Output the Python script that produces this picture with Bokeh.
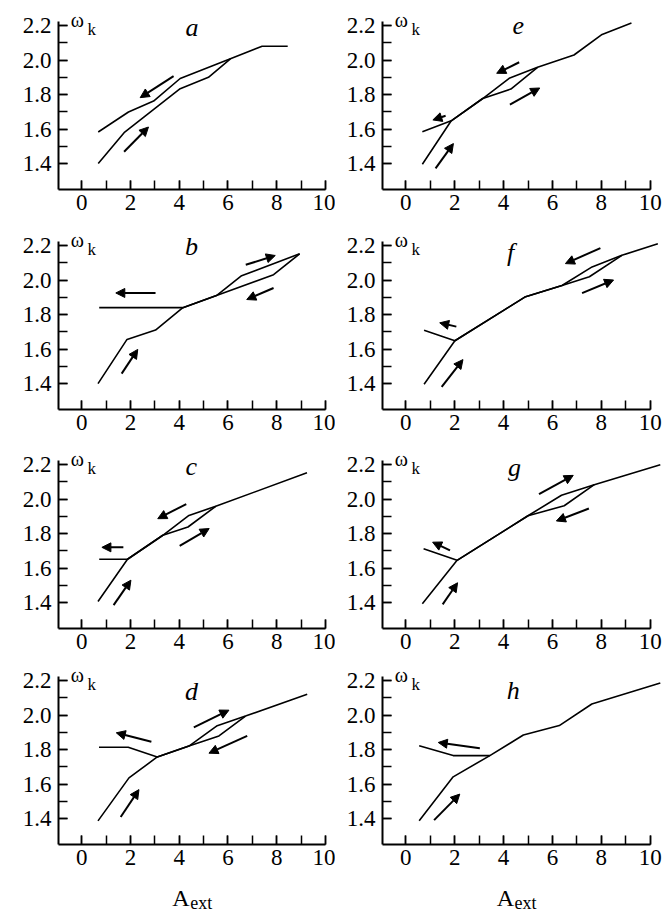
from bokeh.plotting import figure
from bokeh.layouts import column, row
from bokeh.models import FixedTicker, PrintfTickFormatter, Arrow, NormalHead
from bokeh.core.properties import value
from bokeh.embed import file_html
from bokeh.resources import INLINE

# ---- data ----
x_ticks = [0, 2, 4, 6, 8, 10]
x_minor = [0, 1, 2, 3, 4, 5, 6, 7, 8, 9, 10]
y_ticks = [1.4, 1.6, 1.8, 2.0, 2.2]
y_minor = [1.4, 1.5, 1.6, 1.7, 1.8, 1.9, 2.0, 2.1, 2.2]

a_fwd_x = [0.68, 1.74, 4.04, 5.2, 6.1, 7.4, 8.45]
a_fwd_y = [1.40, 1.579, 1.834, 1.90, 2.007, 2.08, 2.08]
a_ret_x = [6.1, 4.04, 2.95, 1.92, 0.68]
a_ret_y = [2.007, 1.893, 1.762, 1.699, 1.583]
a_arrows = [(3.77, 1.907, 2.4, 1.782), (1.74, 1.469, 2.74, 1.612)]

b_fwd_x = [0.67, 1.86, 3.03, 4.15, 5.53, 6.56, 8.94]
b_fwd_y = [1.40, 1.656, 1.71, 1.84, 1.91, 2.025, 2.152]
b_ret_x = [8.94, 7.87, 5.53, 4.15, 0.72]
b_ret_y = [2.152, 2.031, 1.91, 1.84, 1.84]
b_arrows = [(1.64, 1.458, 2.3, 1.598), (6.73, 2.088, 7.94, 2.142),
            (7.87, 1.954, 6.77, 1.887), (3.03, 1.925, 1.40, 1.925)]

c_fwd_x = [0.67, 1.88, 3.33, 4.36, 5.5, 9.24]
c_fwd_y = [1.406, 1.651, 1.79, 1.838, 1.958, 2.152]
c_ret_x = [5.5, 4.4, 3.33, 1.88, 0.72]
c_ret_y = [1.958, 1.905, 1.79, 1.651, 1.651]
c_arrows = [(1.31, 1.385, 2.02, 1.53), (1.71, 1.72, 0.83, 1.72),
            (4.29, 1.971, 3.12, 1.886), (4.02, 1.728, 5.23, 1.829)]

d_fwd_x = [0.67, 1.94, 3.1, 4.4, 5.56, 6.72, 9.25]
d_fwd_y = [1.387, 1.636, 1.757, 1.82, 1.938, 1.994, 2.121]
d_ret_x = [6.72, 5.63, 4.4, 3.1, 1.91, 0.71]
d_ret_y = [1.994, 1.879, 1.82, 1.757, 1.813, 1.813]
d_arrows = [(1.6, 1.409, 2.35, 1.568), (2.86, 1.845, 1.42, 1.897),
            (4.6, 1.929, 6.04, 2.028), (6.79, 1.879, 5.22, 1.779)]

e_fwd_x = [0.68, 1.86, 3.15, 4.3, 5.39, 6.88, 8.03, 9.23]
e_fwd_y = [1.396, 1.648, 1.777, 1.832, 1.958, 2.029, 2.148, 2.214]
e_ret_x = [5.39, 4.23, 3.15, 1.86, 0.68]
e_ret_y = [1.958, 1.894, 1.777, 1.648, 1.584]
e_arrows = [(1.22, 1.372, 1.95, 1.516), (1.63, 1.677, 1.11, 1.653),
            (4.64, 1.987, 3.72, 1.923), (4.26, 1.741, 5.48, 1.838)]

f_fwd_x = [0.75, 2.01, 4.87, 6.39, 7.51, 8.84, 10.31]
f_fwd_y = [1.396, 1.648, 1.901, 1.968, 2.019, 2.143, 2.21]
f_ret_x = [8.84, 7.62, 6.39, 4.87, 2.01, 0.75]
f_ret_y = [2.143, 2.076, 1.968, 1.901, 1.648, 1.709]
f_arrows = [(1.47, 1.381, 2.34, 1.539), (2.07, 1.73, 1.39, 1.752),
            (7.96, 2.185, 6.53, 2.095), (7.21, 1.924, 8.5, 2.0)]

g_fwd_x = [0.68, 2.1, 5.0, 6.37, 7.71, 10.41]
g_fwd_y = [1.394, 1.645, 1.903, 2.022, 2.083, 2.198]
g_ret_x = [7.71, 6.48, 5.0, 2.1, 0.73]
g_ret_y = [2.083, 1.961, 1.903, 1.645, 1.712]
g_arrows = [(1.51, 1.39, 2.12, 1.515), (1.81, 1.702, 1.1, 1.75),
            (5.45, 2.028, 6.85, 2.137), (7.49, 1.945, 6.16, 1.873)]

h_fwd_x = [0.55, 1.94, 3.44, 4.81, 6.28, 7.61, 10.41]
h_fwd_y = [1.387, 1.642, 1.765, 1.884, 1.939, 2.064, 2.185]
h_ret_x = [3.44, 1.94, 0.55]
h_ret_y = [1.765, 1.765, 1.822]
h_arrows = [(1.16, 1.391, 2.21, 1.542), (3.03, 1.807, 1.33, 1.841)]

panels = [
    ("a", a_fwd_x, a_fwd_y, a_ret_x, a_ret_y, a_arrows, (4.52, 2.187)),
    ("e", e_fwd_x, e_fwd_y, e_ret_x, e_ret_y, e_arrows, (4.6, 2.2)),
    ("b", b_fwd_x, b_fwd_y, b_ret_x, b_ret_y, b_arrows, (4.5, 2.194)),
    ("f", f_fwd_x, f_fwd_y, f_ret_x, f_ret_y, f_arrows, (4.29, 2.162)),
    ("c", c_fwd_x, c_fwd_y, c_ret_x, c_ret_y, c_arrows, (4.5, 2.187)),
    ("g", g_fwd_x, g_fwd_y, g_ret_x, g_ret_y, g_arrows, (4.45, 2.185)),
    ("d", d_fwd_x, d_fwd_y, d_ret_x, d_ret_y, d_arrows, (4.5, 2.134)),
    ("h", h_fwd_x, h_fwd_y, h_ret_x, h_ret_y, h_arrows, (4.4, 2.143)),
]

FONT = "Times New Roman"

Y_TOP = 2.31            # frame top (room for panel letters and the omega label)
FRAME_H = 183
top_borders = [6, 4, 3, 0]
BOTTOM = 33
row_heights = [t + FRAME_H + BOTTOM for t in top_borders]
CAPTION_H = 912 - sum(row_heights)


def col_geometry(c):
    if c == 0:
        return (-0.95, 10.0), 58, 10
    return (-0.95, 10.5), 47, 8


def make_panel(idx, letter, fx, fy, rx, ry, arrows, lpos):
    r = idx // 2
    c = idx % 2
    xr, bl, br = col_geometry(c)
    p = figure(width=335, height=row_heights[r], x_range=xr, y_range=(1.25, Y_TOP),
               min_border_left=bl, min_border_right=br,
               min_border_top=top_borders[r], min_border_bottom=BOTTOM,
               output_backend="svg", toolbar_location=None,
               background_fill_color="white", border_fill_color="white")
    p.outline_line_color = None
    p.xgrid.visible = False
    p.ygrid.visible = False

    p.axis.axis_line_width = 2
    p.axis.axis_line_color = "black"
    p.axis.major_tick_in = 9
    p.axis.major_tick_out = 0
    p.axis.minor_tick_in = 9
    p.axis.minor_tick_out = 0
    p.axis.major_tick_line_width = 1.5
    p.axis.minor_tick_line_width = 1.5
    p.axis.major_tick_line_color = "black"
    p.axis.minor_tick_line_color = "black"
    p.axis.major_label_text_font = FONT
    p.axis.major_label_text_font_size = "23px"
    p.axis.major_label_text_color = "black"
    p.xaxis.ticker = FixedTicker(ticks=x_ticks, minor_ticks=x_minor)
    p.xaxis.formatter = PrintfTickFormatter(format="%d")
    p.xaxis.bounds = (-0.95, 10)
    p.xaxis.major_label_standoff = 5
    p.yaxis.ticker = FixedTicker(ticks=y_ticks, minor_ticks=y_minor)
    p.yaxis.formatter = PrintfTickFormatter(format="%.1f")
    p.yaxis.major_label_standoff = 7
    p.yaxis.bounds = (1.25, 2.225)

    p.line(fx, fy, line_color="black", line_width=1.6)
    p.line(rx, ry, line_color="black", line_width=1.6)

    for (x0, y0, x1, y1) in arrows:
        p.add_layout(Arrow(end=NormalHead(size=9, fill_color="black", line_color="black", line_width=1),
                           x_start=x0, y_start=y0, x_end=x1, y_end=y1,
                           line_color="black", line_width=2))

    p.text(x=[lpos[0]], y=[lpos[1]], text=[letter], text_font=value(FONT),
           text_font_style="italic", text_font_size="26px",
           text_align="center", text_baseline="alphabetic", text_color="black")
    p.text(x=[-0.45], y=[2.231], text=["ω"], text_font=value(FONT), text_font_size="20px",
           text_align="left", text_baseline="alphabetic", text_color="black")
    p.text(x=[0.24], y=[2.178], text=["k"], text_font=value(FONT), text_font_size="17px",
           text_align="left", text_baseline="alphabetic", text_color="black")
    return p


def make_caption(c):
    xr, bl, br = col_geometry(c)
    q = figure(width=335, height=CAPTION_H, x_range=xr, y_range=(0, CAPTION_H),
               x_axis_type=None, y_axis_type=None,
               min_border_left=bl, min_border_right=br, min_border_top=0, min_border_bottom=0,
               output_backend="svg", toolbar_location=None,
               background_fill_color="white", border_fill_color="white")
    q.outline_line_color = None
    q.grid.visible = False
    q.text(x=[3.72], y=[15], text=["A"], text_font=value(FONT), text_font_size="24px",
           text_align="left", text_baseline="alphabetic", text_color="black")
    q.text(x=[4.45], y=[10], text=["ext"], text_font=value(FONT), text_font_size="18px",
           text_align="left", text_baseline="alphabetic", text_color="black")
    return q


figs = [make_panel(i, *panels[i]) for i in range(8)]
rows = [row(figs[2 * k], figs[2 * k + 1]) for k in range(4)]
rows.append(row(make_caption(0), make_caption(1)))
layout = column(*rows)

open("out.html", "w").write(file_html(layout, INLINE))
